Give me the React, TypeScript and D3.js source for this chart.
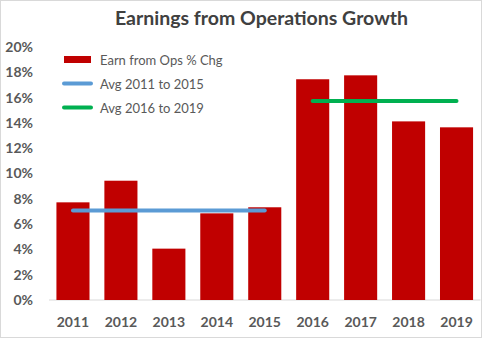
import React from "react";
import * as d3 from "d3";

const years = ["2011", "2012", "2013", "2014", "2015", "2016", "2017", "2018", "2019"];
const earnChg = [7.72, 9.43, 4.06, 6.85, 7.33, 17.45, 17.76, 14.12, 13.65];
const avg1Years = ["2011", "2015"];
const avg1Value = 7.07;
const avg2Years = ["2016", "2019"];
const avg2Value = 15.74;
const yTicks = [0, 2, 4, 6, 8, 10, 12, 14, 16, 18, 20];
const legendLabels = ["Earn from Ops % Chg", "Avg 2011 to 2015", "Avg 2016 to 2019"];

const W = 482;
const H = 338;
const FONT = "Lato, 'Open Sans', sans-serif";

export default function App() {
  const x = d3.scaleBand<string>().domain(years).range([49, 480.5]).paddingInner(0.31).paddingOuter(0.155);
  const y = d3.scaleLinear().domain([0, 20]).range([300, 47]);
  const cx = (yr: string) => (x(yr) ?? 0) + x.bandwidth() / 2;

  return (
    <svg width={W} height={H} style={{ position: "absolute", left: 0, top: 0 }} fontFamily={FONT}>
      <rect x={0.5} y={0.5} width={W - 1} height={H - 1} fill="#fff" stroke="#d9d9d9" />
      <text x={261.5} y={25} textAnchor="middle" fontSize={19.5} fontWeight="bold" fill="#404040">
        Earnings from Operations Growth
      </text>
      {yTicks.map((t) => (
        <text key={t} x={33} y={y(t)} dy="0.35em" textAnchor="end" fontSize={14} fontWeight="bold" fill="#595959">
          {t}%
        </text>
      ))}
      <line x1={49} x2={480.5} y1={y(0)} y2={y(0)} stroke="#d9d9d9" strokeWidth={1} />
      {years.map((yr, i) => (
        <rect key={yr} x={x(yr)} y={y(earnChg[i])} width={x.bandwidth()} height={y(0) - y(earnChg[i])} fill="#c00000" />
      ))}
      {years.map((yr) => (
        <text key={yr} x={cx(yr)} y={322} dy="0.35em" textAnchor="middle" fontSize={14} fontWeight="bold" fill="#595959">
          {yr}
        </text>
      ))}
      <line x1={cx(avg1Years[0])} x2={cx(avg1Years[1])} y1={y(avg1Value)} y2={y(avg1Value)} stroke="#5b9bd5" strokeWidth={4} strokeLinecap="round" />
      <line x1={cx(avg2Years[0])} x2={cx(avg2Years[1])} y1={y(avg2Value)} y2={y(avg2Value)} stroke="#00b050" strokeWidth={4} strokeLinecap="round" />
      <rect x={64} y={56} width={27} height={7} fill="#c00000" />
      <line x1={64} x2={91} y1={83.5} y2={83.5} stroke="#5b9bd5" strokeWidth={4} strokeLinecap="round" />
      <line x1={64} x2={91} y1={107.5} y2={107.5} stroke="#00b050" strokeWidth={4} strokeLinecap="round" />
      {legendLabels.map((l, i) => (
        <text key={l} x={100} y={60 + i * 24} dy="0.35em" fontSize={13} fill="#595959">
          {l}
        </text>
      ))}
    </svg>
  );
}
